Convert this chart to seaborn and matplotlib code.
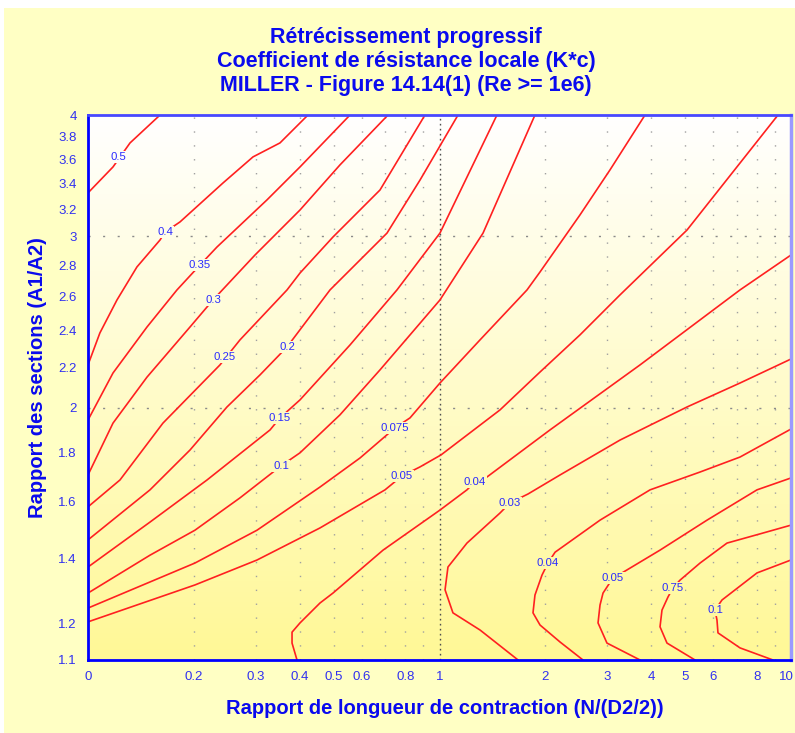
import matplotlib
matplotlib.use("Agg")
import matplotlib.pyplot as plt
import matplotlib.transforms as mtransforms
import numpy as np
import seaborn as sns
from matplotlib.patches import Rectangle
from matplotlib.ticker import FixedLocator, FixedFormatter, NullFormatter

# iso-K*c lines (x = N/(D2/2), y = A1/A2)
k050_x = [0.1, 0.1178, 0.1317, 0.1603]
k050_y = [3.326, 3.537, 3.744, 4.0]

k040_x = [0.1, 0.1081, 0.1209, 0.1378, 0.1603, 0.1656, 0.1827, 0.2421, 0.2947, 0.3517, 0.4225]
k040_y = [2.213, 2.387, 2.581, 2.791, 2.975, 3.031, 3.105, 3.405, 3.622, 3.744, 4.0]

k035_x = [0.1, 0.1178, 0.1472, 0.1791, 0.2083, 0.2328, 0.3229, 0.4010, 0.5564]
k035_y = [1.942, 2.171, 2.421, 2.643, 2.804, 2.926, 3.271, 3.537, 4.0]

k030_x = [0.1, 0.1178, 0.1472, 0.1951, 0.2268, 0.2986, 0.4010, 0.5210, 0.7137]
k030_y = [1.705, 1.928, 2.150, 2.421, 2.581, 2.871, 3.194, 3.554, 4.0]

k025_x = [0.1, 0.1233, 0.1634, 0.2374, 0.2706, 0.3683, 0.4010, 0.4977, 0.6772, 0.9093]
k025_y = [1.581, 1.685, 1.928, 2.213, 2.348, 2.643, 2.751, 2.996, 3.349, 4.0]

k020_x = [0.1, 0.1501, 0.1951, 0.2485, 0.3085, 0.3683, 0.4881, 0.7090, 0.8803, 1.129]
k020_y = [1.462, 1.646, 1.809, 2.003, 2.161, 2.309, 2.643, 3.024, 3.429, 4.0]

k015_x = [0.1, 0.1501, 0.2181, 0.3295, 0.3517, 0.4010, 0.5564, 0.7568, 1.003, 1.457]
k015_y = [1.371, 1.525, 1.685, 1.897, 1.952, 2.037, 2.320, 2.643, 3.024, 4.0]

k010_x = [0.1, 0.1501, 0.2015, 0.2706, 0.3540, 0.4010, 0.5210, 0.6772, 0.8244, 1.003, 1.330, 1.869]
k010_y = [1.289, 1.410, 1.496, 1.615, 1.742, 1.797, 1.966, 2.187, 2.376, 2.581, 3.024, 4.0]

k0075_x = [0.1, 0.2015, 0.3026, 0.4571, 0.5940, 0.7469, 0.8244, 1.003, 1.304, 1.774, 1.932, 2.510, 3.055, 3.843]
k0075_y = [1.244, 1.384, 1.496, 1.657, 1.775, 1.906, 1.952, 2.120, 2.348, 2.643, 2.758, 3.157, 3.512, 4.0]

k005_x = [0.1, 0.2015, 0.3026, 0.4571, 0.6998, 0.7819, 0.8803, 1.010, 1.486, 1.932, 2.510, 3.262, 5.060, 9.184]
k005_y = [1.204, 1.314, 1.394, 1.504, 1.646, 1.701, 1.738, 1.788, 1.989, 2.176, 2.376, 2.612, 3.046, 4.0]

k004_x = [0.3932, 0.3806, 0.3806, 0.4010, 0.4571, 0.4977, 0.6909, 1.003, 1.197, 1.262, 1.365, 2.062, 3.720, 7.160, 10.0]
k004_y = [1.1, 1.145, 1.175, 1.201, 1.259, 1.289, 1.427, 1.569, 1.646, 1.677, 1.697, 1.897, 2.213, 2.643, 2.871]

k003_x = [1.673, 1.304, 1.092, 1.037, 1.057, 1.197, 1.486, 1.587, 1.786, 2.202, 3.262, 5.060, 7.160, 10.0]
k003_y = [1.1, 1.181, 1.230, 1.299, 1.371, 1.451, 1.558, 1.596, 1.630, 1.705, 1.852, 2.003, 2.120, 2.244]

# right-hand family (K rises again for long contractions)
k004b_x = [2.560, 2.202, 1.932, 1.845, 1.869, 1.957, 2.035, 2.132, 2.862, 3.972, 5.511, 7.160, 10.0]
k004b_y = [1.1, 1.148, 1.195, 1.230, 1.283, 1.345, 1.384, 1.420, 1.532, 1.646, 1.717, 1.779, 1.901]

k005b_x = [3.720, 2.995, 2.825, 2.862, 2.919, 3.115, 3.305, 4.240, 5.768, 8.003, 10.0]
k005b_y = [1.1, 1.145, 1.201, 1.253, 1.289, 1.336, 1.352, 1.427, 1.532, 1.646, 1.693]

k0075b_x = [5.333, 4.438, 4.240, 4.295, 4.467, 4.616, 4.833, 5.511, 6.575, 8.162, 10.0]
k0075b_y = [1.1, 1.145, 1.190, 1.238, 1.277, 1.305, 1.329, 1.384, 1.451, 1.483, 1.514]

k010b_x = [8.888, 7.160, 6.198, 6.158, 6.078, 6.363, 8.003, 10.0]
k010b_y = [1.1, 1.132, 1.173, 1.209, 1.238, 1.268, 1.352, 1.394]

# inline labels, as printed on the chart (0.75 is a typo for 0.075 in the original)
label_text = ["0.5", "0.4", "0.35", "0.3", "0.25", "0.2", "0.15", "0.1", "0.075", "0.05",
              "0.04", "0.03", "0.04", "0.05", "0.75", "0.1"]
label_x = [0.1217, 0.1656, 0.2083, 0.2268, 0.2453, 0.3683, 0.3517, 0.3540, 0.7469, 0.7819,
           1.262, 1.587, 2.035, 3.115, 4.616, 6.078]
label_y = [3.622, 3.031, 2.804, 2.581, 2.255, 2.309, 1.952, 1.742, 1.906, 1.701,
           1.677, 1.596, 1.384, 1.336, 1.305, 1.238]

x_ticks = [0.1, 0.2, 0.3, 0.4, 0.5, 0.6, 0.8, 1, 2, 3, 4, 5, 6, 8, 10]
x_tick_labels = ["0", "0.2", "0.3", "0.4", "0.5", "0.6", "0.8", "1", "2", "3", "4", "5", "6", "8", "10"]
x_minor = [0.7, 0.9, 7, 9]
y_ticks = [1.1, 1.2, 1.4, 1.6, 1.8, 2.0, 2.2, 2.4, 2.6, 2.8, 3.0, 3.2, 3.4, 3.6, 3.8, 4.0]
y_tick_labels = ["1.1", "1.2", "1.4", "1.6", "1.8", "2", "2.2", "2.4", "2.6", "2.8",
                 "3", "3.2", "3.4", "3.6", "3.8", "4"]
y_minor = [1.3, 1.5, 1.7, 1.9, 2.1, 2.3, 2.5, 2.7, 2.9, 3.1, 3.3, 3.5, 3.7, 3.9]

contours = [(k050_x, k050_y), (k040_x, k040_y), (k035_x, k035_y), (k030_x, k030_y),
            (k025_x, k025_y), (k020_x, k020_y), (k015_x, k015_y), (k010_x, k010_y),
            (k0075_x, k0075_y), (k005_x, k005_y), (k004_x, k004_y), (k003_x, k003_y),
            (k004b_x, k004b_y), (k005b_x, k005b_y), (k0075b_x, k0075b_y), (k010b_x, k010b_y)]

sns.set_style("white")
plt.rcParams["font.family"] = ["Liberation Sans", "DejaVu Sans"]

BLUE = "#0a0aee"
TICK_BLUE = "#3030f0"
TOP = np.array([255, 255, 255]) / 255
BOTTOM = np.array([255, 248, 150]) / 255


def bg_color(y):
    t = (np.log10(4.0) - np.log10(y)) / (np.log10(4.0) - np.log10(1.1))
    return tuple(TOP + (BOTTOM - TOP) * t)


fig = plt.figure(figsize=(7.95, 7.33), dpi=100)
fig.patch.set_facecolor("white")
fig.patches.append(Rectangle((4 / 795, 0), 1, 725 / 733, transform=fig.transFigure,
                             facecolor="#FFFFC4", edgecolor="none", zorder=-10))

pos = [88 / 795, 73 / 733, 703 / 795, 545 / 733]

# gradient behind the plot area
bg = fig.add_axes(pos, zorder=0)
grad = TOP + np.linspace(0, 1, 256)[:, None, None] * (BOTTOM - TOP)
bg.imshow(grad, aspect="auto", extent=[0, 1, 0, 1], origin="upper")
bg.axis("off")

ax = fig.add_axes(pos, zorder=1)
ax.patch.set_alpha(0)
ax.set_xscale("log")
ax.set_yscale("log")

# dotted grid
for xv in x_ticks[1:-1] + x_minor:
    if xv == 1:
        continue
    ax.axvline(xv, color="#a0a0a0", lw=1, ls=(0, (1, 9)), zorder=0.5)
ax.axvline(1, color="#505050", lw=1, ls=(0, (1.2, 2.4)), zorder=0.5)
for yv in [2.0, 3.0]:
    ax.axhline(yv, color="#8a8a8a", lw=1, ls=(0, (1.5, 9)), zorder=0.5)

for xs, ys in contours:
    sns.lineplot(x=xs, y=ys, sort=False, estimator=None, color="#ff2020",
                 linewidth=1.2, ax=ax, legend=False, zorder=2)

for s, lx, ly in zip(label_text, label_x, label_y):
    ax.text(lx, ly, s, fontsize=8.2, color="#2a2aff", ha="center", va="center", zorder=3,
            bbox=dict(boxstyle="square,pad=0.1", facecolor=bg_color(ly), edgecolor="none"))

ax.set_xlim(0.1, 10)
ax.set_ylim(1.1, 4.0)

ax.xaxis.set_major_locator(FixedLocator(x_ticks))
ax.xaxis.set_major_formatter(FixedFormatter(x_tick_labels))
ax.xaxis.set_minor_locator(FixedLocator(x_minor))
ax.xaxis.set_minor_formatter(NullFormatter())
ax.yaxis.set_major_locator(FixedLocator(y_ticks))
ax.yaxis.set_major_formatter(FixedFormatter(y_tick_labels))
ax.yaxis.set_minor_locator(FixedLocator(y_minor))
ax.yaxis.set_minor_formatter(NullFormatter())

ax.tick_params(axis="x", which="both", direction="inout", length=10, width=1.5,
               color="#202020", labelcolor=TICK_BLUE, labelsize=9.5, pad=3)
ax.tick_params(axis="y", which="both", direction="inout", length=10, width=1.5,
               color="#1515e0", labelcolor=TICK_BLUE, labelsize=9.5, pad=3)
ax.set_xlabel("")
ax.set_ylabel("")

# keep the "10" inside the figure edge
last = ax.get_xticklabels()[-1]
last.set_transform(last.get_transform() + mtransforms.ScaledTranslation(-5 / 100, 0, fig.dpi_scale_trans))

for side in ["left", "bottom"]:
    ax.spines[side].set_color("#0000ff")
    ax.spines[side].set_linewidth(2)
ax.spines["top"].set_color("#4848ff")
ax.spines["top"].set_linewidth(2)
ax.spines["right"].set_color("#9a9aff")
ax.spines["right"].set_linewidth(2.5)

title_lines = ["Rétrécissement progressif",
               "Coefficient de résistance locale (K*c)",
               "MILLER - Figure 14.14(1) (Re >= 1e6)"]
for i, t in enumerate(title_lines):
    fig.text(406 / 795, 1 - (38 + 24 * i) / 733, t, ha="center", va="center",
             color=BLUE, fontsize=15.5, fontweight="bold")

fig.text(445 / 795, 1 - 708 / 733, "Rapport de longueur de contraction (N/(D2/2))",
         ha="center", va="center", color=BLUE, fontsize=14.5, fontweight="bold")
fig.text(38 / 795, 1 - 378 / 733, "Rapport des sections (A1/A2)", rotation=90,
         ha="center", va="center", color=BLUE, fontsize=14.5, fontweight="bold")

fig.savefig("out.png", dpi=100)
